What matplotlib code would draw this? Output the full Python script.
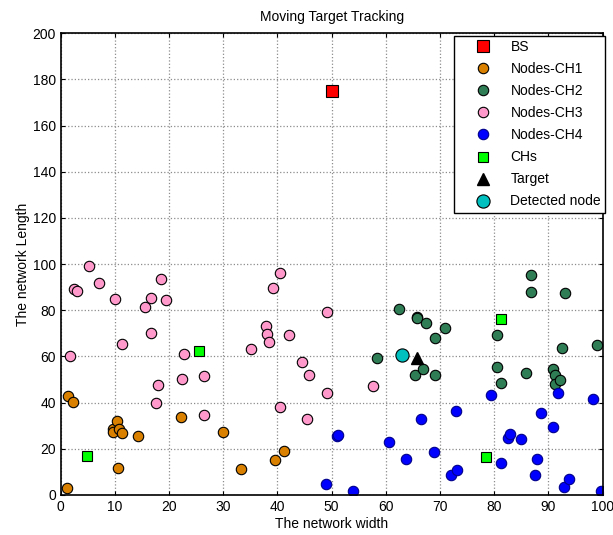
import matplotlib
matplotlib.use("Agg")
import matplotlib.pyplot as plt

plt.rcParams['font.family'] = ['Liberation Sans', 'DejaVu Sans']

# base station
bs_x = [50]
bs_y = [175]

# cluster members
ch1_x = [1.1, 1.3, 2.2, 9.6, 9.7, 10.3, 10.5, 10.7, 11.3, 14.2, 22.2, 30.0, 33.3, 39.6, 41.3]
ch1_y = [3.0, 42.9, 40.4, 28.6, 27.4, 32.2, 11.5, 28.4, 26.6, 25.5, 33.6, 27.4, 11.4, 15.0, 19.0]

ch2_x = [58.3, 62.4, 65.3, 65.7, 65.8, 66.9, 67.5, 69.1, 69.1, 71.0, 80.6, 80.6, 81.2, 85.9,
         86.7, 86.7, 90.8, 91.2, 91.2, 92.1, 92.6, 93.1, 99.0]
ch2_y = [59.2, 80.7, 52.1, 77.2, 76.8, 54.5, 74.3, 68.1, 52.1, 72.3, 69.1, 55.3, 48.6, 52.7,
         95.2, 87.7, 54.4, 52.0, 47.9, 49.8, 63.8, 87.3, 65.1]

ch3_x = [1.7, 2.5, 3.0, 5.3, 7.0, 10.1, 11.4, 15.5, 16.6, 16.7, 17.6, 18.0, 18.5, 19.5, 22.4,
         22.7, 26.4, 26.4, 35.1, 37.8, 38.0, 38.4, 39.2, 40.4, 40.4, 42.2, 44.5, 45.4, 45.9,
         49.1, 49.1, 57.7]
ch3_y = [60.2, 89.3, 88.3, 99.3, 91.9, 84.7, 65.2, 81.2, 85.4, 70.3, 39.7, 47.7, 93.4, 84.4, 50.2,
         61.2, 51.3, 34.8, 63.2, 73.3, 69.7, 66.1, 89.8, 96.2, 38.1, 69.1, 57.6, 33.0, 52.1,
         79.2, 44.0, 47.3]

ch4_x = [48.9, 51.0, 51.1, 53.9, 60.6, 63.7, 66.4, 68.9, 72.1, 72.9, 73.2, 79.5, 81.3, 82.5,
         83.0, 85.0, 87.6, 87.9, 88.6, 90.8, 91.7, 92.9, 93.8, 98.2, 99.8]
ch4_y = [4.5, 25.6, 25.9, 1.6, 22.9, 15.6, 33.0, 18.6, 8.4, 36.5, 10.7, 43.1, 13.6, 24.5,
         26.3, 24.1, 8.4, 15.4, 35.5, 29.6, 44.0, 3.5, 6.9, 41.6, 1.6]

# cluster heads, target and the node that detected it
chs_x = [4.8, 25.5, 78.4, 81.3]
chs_y = [17.0, 62.3, 16.2, 76.3]
target_x = [65.8]
target_y = [59.5]
detected_x = [62.9]
detected_y = [60.6]

fig = plt.figure(figsize=(6.13, 5.35), dpi=100)
ax = fig.add_axes([0.099, 0.075, 0.884, 0.863])

ms = 7.5
ax.plot(bs_x, bs_y, 's', color='#FF0000', mec='k', mew=0.8, ms=8.5, label='BS')
ax.plot(ch1_x, ch1_y, 'o', color='#D98000', mec='k', mew=0.8, ms=ms, label='Nodes-CH1')
ax.plot(ch2_x, ch2_y, 'o', color='#2E7D55', mec='k', mew=0.8, ms=ms, label='Nodes-CH2')
ax.plot(ch3_x, ch3_y, 'o', color='#FF99CC', mec='k', mew=0.8, ms=ms, label='Nodes-CH3')
ax.plot(ch4_x, ch4_y, 'o', color='#0000FF', mec='#00008B', mew=0.8, ms=ms, label='Nodes-CH4')
ax.plot(chs_x, chs_y, 's', color='#00FF00', mec='k', mew=0.8, ms=7, label='CHs')
ax.plot(target_x, target_y, '^', color='k', mec='k', ms=8.5, label='Target')
ax.plot(detected_x, detected_y, 'o', color='#00BFBF', mec='k', mew=0.8, ms=9.5, label='Detected node')

ax.set_xlim(0, 100)
ax.set_ylim(0, 200)
ax.set_xticks(range(0, 101, 10))
ax.set_yticks(range(0, 201, 20))
ax.tick_params(direction='in', labelsize=10, length=3, top=True, right=True)
ax.grid(True, color='#8c8c8c', linestyle=':', linewidth=0.9)
for s in ax.spines.values():
    s.set_linewidth(1.2)

ax.set_title('Moving Target Tracking', fontsize=10, pad=9)
ax.set_xlabel('The network width', fontsize=10, labelpad=2)
ax.set_ylabel('The network Length', fontsize=10, labelpad=2)

leg = ax.legend(loc='upper right', bbox_to_anchor=(1.005, 0.994), borderaxespad=0,
                fontsize=10, fancybox=False, framealpha=1, edgecolor='k',
                handlelength=3.6, handletextpad=0.2, labelspacing=0.58, borderpad=0.3)
leg.get_frame().set_linewidth(1.0)

fig.savefig('out.png', dpi=100)
